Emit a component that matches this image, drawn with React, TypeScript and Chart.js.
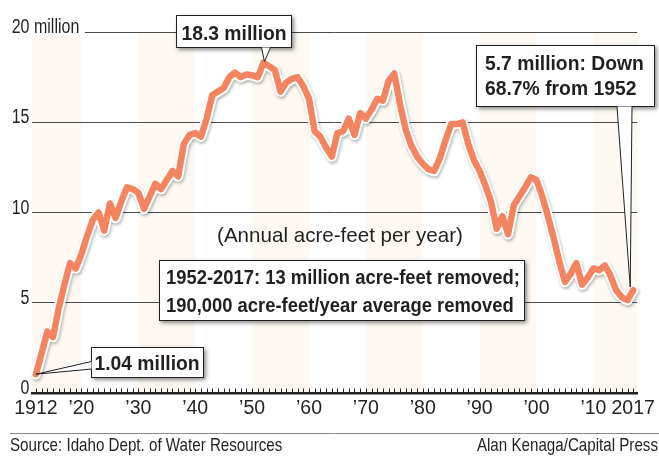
import React, { useEffect, useRef } from "react";
import { Chart, registerables } from "chart.js";

Chart.register(...registerables);

// ---------- data ----------
const START_YEAR = 1912;
const END_YEAR = 2017;
const YEARS: number[] = Array.from({ length: END_YEAR - START_YEAR + 1 }, (_, i) => START_YEAR + i);

// Annual acre-feet (millions), 1912-2017
const VALUES: number[] = [
  1.04, 2.2, 3.4, 3.1, 4.7, 6.0, 7.2, 6.9,
  7.7, 8.7, 9.6, 10.0, 9.0, 10.5, 9.7, 10.6, 11.4, 11.3,
  11.1, 10.2, 10.9, 11.6, 11.3, 11.8, 12.3, 12.0, 13.8, 14.3,
  14.4, 14.2, 15.2, 16.5, 16.7, 16.9, 17.5, 17.75, 17.5, 17.65,
  17.6, 17.5, 18.3, 18.1, 17.9, 16.7, 17.2, 17.4, 17.5, 17.0,
  16.3, 14.5, 14.2, 13.6, 13.1, 14.4, 14.5, 15.2, 14.3, 15.5,
  15.2, 15.7, 16.3, 16.2, 17.3, 17.7, 16.0, 14.6, 13.7, 13.1,
  12.7, 12.4, 12.3, 13.0, 14.0, 14.9, 14.9, 15.0, 13.8, 12.9,
  12.3, 11.5, 10.6, 9.1, 9.8, 8.8, 10.4, 10.9, 11.4, 11.95,
  11.8, 10.9, 9.8, 8.6, 7.3, 6.15, 6.6, 7.2, 6.0, 6.4,
  6.9, 6.8, 7.07, 6.5, 5.7, 5.3, 5.15, 5.7,
];

const X_TICKS = [1912, 1920, 1930, 1940, 1950, 1960, 1970, 1980, 1990, 2000, 2010, 2017];
const X_TICK_LABELS = ["1912", "\u201920", "\u201930", "\u201940", "\u201950", "\u201960", "\u201970", "\u201980", "\u201990", "\u201900", "\u201910", "2017"];
const Y_TICKS = [0, 5, 10, 15, 20];
const Y_TICK_LABELS = ["0", "5", "10", "15", "20"];
const Y_TOP_SUFFIX = " million";
const SHADED_DECADES = [1910, 1930, 1950, 1970, 1990, 2010];

const PEAK_YEAR = 1952;
const PEAK_VALUE = 18.3;
const FIRST_VALUE = 1.04;
const LAST_VALUE = 5.7;

const LABEL_PEAK = "18.3 million";
const LABEL_FIRST = "1.04 million";
const LABEL_LAST = ["5.7 million: Down", "68.7% from 1952"];
const LABEL_REMOVED = ["1952-2017: 13 million acre-feet removed;", "190,000 acre-feet/year average removed"];
const LABEL_UNITS = "(Annual acre-feet per year)";
const SOURCE = "Source: Idaho Dept. of Water Resources";
const CREDIT = "Alan Kenaga/Capital Press";

// ---------- style ----------
const TEXT_COLOR = "#231f20";
const LINE_COLOR = "#f4845f";
const BAND_COLOR = "#fdf9f2";
const GRID_COLOR = "#4a4a4a";
const FONT = "'Liberation Sans', Arial, sans-serif";
const NARROW = "'Liberation Sans Narrow', 'Arial Narrow', 'Liberation Sans', sans-serif";

function drawText(
  ctx: CanvasRenderingContext2D,
  str: string,
  x: number,
  y: number,
  size: number,
  weight: string,
  sx: number,
  align: "left" | "right" | "center"
): number {
  ctx.save();
  ctx.font = `${weight} ${size}px ${FONT}`;
  const w = ctx.measureText(str).width * sx;
  let x0 = x;
  if (align === "right") x0 = x - w;
  else if (align === "center") x0 = x - w / 2;
  ctx.translate(x0, y);
  ctx.scale(sx, 1);
  ctx.textAlign = "left";
  ctx.textBaseline = "alphabetic";
  ctx.fillStyle = TEXT_COLOR;
  ctx.fillText(str, 0, 0);
  ctx.restore();
  return w;
}

function drawBox(ctx: CanvasRenderingContext2D, x: number, y: number, w: number, h: number) {
  ctx.save();
  ctx.shadowColor = "rgba(0,0,0,0.45)";
  ctx.shadowBlur = 4;
  ctx.shadowOffsetX = 2;
  ctx.shadowOffsetY = 2;
  ctx.fillStyle = "#fff";
  ctx.fillRect(x, y, w, h);
  ctx.restore();
  ctx.save();
  ctx.strokeStyle = TEXT_COLOR;
  ctx.lineWidth = 1;
  ctx.strokeRect(x + 0.5, y + 0.5, w - 1, h - 1);
  ctx.restore();
}

function drawPointer(
  ctx: CanvasRenderingContext2D,
  a: [number, number],
  b: [number, number],
  tip: [number, number]
) {
  ctx.save();
  ctx.beginPath();
  ctx.moveTo(a[0], a[1]);
  ctx.lineTo(tip[0], tip[1]);
  ctx.lineTo(b[0], b[1]);
  ctx.closePath();
  ctx.fillStyle = "#fff";
  ctx.fill();
  ctx.beginPath();
  ctx.moveTo(a[0], a[1]);
  ctx.lineTo(tip[0], tip[1]);
  ctx.lineTo(b[0], b[1]);
  ctx.strokeStyle = TEXT_COLOR;
  ctx.lineWidth = 1;
  ctx.stroke();
  ctx.restore();
}

const decoPlugin = {
  id: "deco",
  beforeDraw(chart: any) {
    const { ctx, chartArea: a, scales } = chart;
    const x = scales.x;
    ctx.save();
    ctx.fillStyle = "#fff";
    ctx.fillRect(0, 0, chart.width, chart.height);
    ctx.fillStyle = BAND_COLOR;
    SHADED_DECADES.forEach((d) => {
      const x0 = Math.max(x.getPixelForValue(d), a.left);
      const x1 = Math.min(x.getPixelForValue(d + 10), a.right);
      if (x1 > x0) ctx.fillRect(x0, a.top, x1 - x0, a.bottom - a.top);
    });
    ctx.restore();
  },
  beforeDatasetDraw(chart: any, args: any) {
    if (args.index === 0) {
      const ctx = chart.ctx;
      ctx.save();
      ctx.shadowColor = "rgba(0,0,0,0.28)";
      ctx.shadowBlur = 3;
      ctx.shadowOffsetX = 1;
      ctx.shadowOffsetY = 2;
    }
  },
  afterDatasetDraw(chart: any, args: any) {
    if (args.index === 0) chart.ctx.restore();
  },
  afterDraw(chart: any) {
    const { ctx, chartArea: a, scales } = chart;
    const x = scales.x;
    const y = scales.y;

    // minor year ticks on the axis
    ctx.save();
    ctx.strokeStyle = TEXT_COLOR;
    ctx.lineWidth = 1;
    YEARS.forEach((yr) => {
      const px = Math.round(x.getPixelForValue(yr)) + 0.5;
      ctx.beginPath();
      ctx.moveTo(px, a.bottom - 4.5);
      ctx.lineTo(px, a.bottom);
      ctx.stroke();
    });
    ctx.restore();

    // y labels
    const ySize = 20;
    const ySx = 0.8;
    Y_TICKS.forEach((v, i) => {
      const py = y.getPixelForValue(v);
      if (i === Y_TICKS.length - 1) {
        ctx.save();
        ctx.fillStyle = "#fff";
        ctx.fillRect(a.left - 1, py - 2, 54, 5);
        ctx.restore();
        drawText(ctx, Y_TICK_LABELS[i], 29.5, py + 1, ySize, "normal", ySx, "right");
        drawText(ctx, Y_TOP_SUFFIX, 29.5, py + 1, ySize, "normal", ySx, "left");
      } else {
        drawText(ctx, Y_TICK_LABELS[i], 29.5, py + 1, ySize, "normal", ySx, "right");
      }
    });

    // units note
    drawText(ctx, LABEL_UNITS, 340, 242, 21, "normal", 0.98, "center");

    // removed box
    drawBox(ctx, 159, 260, 366, 61);
    drawText(ctx, LABEL_REMOVED[0], 166, 284, 20, "bold", 0.92, "left");
    drawText(ctx, LABEL_REMOVED[1], 166, 312, 20, "bold", 0.92, "left");

    // peak box
    const pkx = x.getPixelForValue(PEAK_YEAR);
    const pky = y.getPixelForValue(PEAK_VALUE);
    drawBox(ctx, 176, 15, 116, 33);
    drawPointer(ctx, [261.5, 47.5], [270.5, 47.5], [pkx + 1, pky - 1]);
    drawText(ctx, LABEL_PEAK, 234, 40, 21, "bold", 0.92, "center");

    // last box
    const lx = x.getPixelForValue(END_YEAR);
    const ly = y.getPixelForValue(LAST_VALUE);
    drawBox(ctx, 476, 45, 179, 62);
    drawPointer(ctx, [617, 106.5], [632, 106.5], [lx - 3, ly - 3]);
    drawText(ctx, LABEL_LAST[0], 485, 70, 21, "bold", 0.92, "left");
    drawText(ctx, LABEL_LAST[1], 485, 95, 21, "bold", 0.92, "left");

    // first box
    const fx = x.getPixelForValue(START_YEAR);
    const fy = y.getPixelForValue(FIRST_VALUE);
    drawBox(ctx, 91, 347, 113, 31);
    drawPointer(ctx, [91.5, 361.5], [91.5, 369], [fx, fy]);
    drawText(ctx, LABEL_FIRST, 147, 370, 21, "bold", 0.92, "center");

    // footer
    ctx.save();
    ctx.strokeStyle = "#8a8a8a";
    ctx.lineWidth = 1;
    ctx.beginPath();
    ctx.moveTo(10, 433.5);
    ctx.lineTo(659, 433.5);
    ctx.stroke();
    ctx.restore();
    drawText(ctx, SOURCE, 10, 451, 18.6, "normal", 0.815, "left");
    drawText(ctx, CREDIT, 658, 451, 18.6, "normal", 0.815, "right");
  },
};

export default function App() {
  const ref = useRef<HTMLCanvasElement | null>(null);

  useEffect(() => {
    if (!ref.current) return;
    const points = YEARS.map((yr, i) => ({ x: yr, y: VALUES[i] }));
    const chart = new Chart(ref.current, {
      type: "line",
      data: {
        datasets: [
          {
            data: points,
            borderColor: "#ffffff",
            borderWidth: 10.5,
            pointRadius: 0,
            tension: 0,
            borderJoinStyle: "round",
            borderCapStyle: "round",
            clip: false as any,
            order: 2,
          },
          {
            data: points,
            borderColor: LINE_COLOR,
            borderWidth: 6.5,
            pointRadius: 0,
            tension: 0,
            borderJoinStyle: "round",
            borderCapStyle: "round",
            clip: false as any,
            order: 1,
          },
        ],
      },
      options: {
        animation: false,
        responsive: false,
        devicePixelRatio: 1,
        layout: { padding: { top: 32, right: 14, left: 0, bottom: 0 } },
        plugins: { legend: { display: false }, tooltip: { enabled: false } },
        events: [],
        scales: {
          x: {
            type: "linear",
            min: 1911.31,
            max: 2017.69,
            afterBuildTicks: (s: any) => {
              s.ticks = X_TICKS.map((v) => ({ value: v }));
            },
            afterFit: (s: any) => {
              s.height = 64;
            },
            grid: { display: false, drawTicks: false },
            border: { display: true, color: TEXT_COLOR, width: 2.5 },
            ticks: {
              autoSkip: false,
              maxRotation: 0,
              padding: 4,
              color: TEXT_COLOR,
              font: { family: NARROW, size: 19.5 },
              callback: (v: any) => {
                const i = X_TICKS.indexOf(Number(v));
                return i >= 0 ? X_TICK_LABELS[i] : "";
              },
            },
          },
          y: {
            min: 0,
            max: 20,
            afterBuildTicks: (s: any) => {
              s.ticks = Y_TICKS.map((v) => ({ value: v }));
            },
            afterFit: (s: any) => {
              s.width = 32;
            },
            ticks: { display: false },
            grid: {
              drawTicks: false,
              lineWidth: 1,
              color: (c: any) => (c.tick && c.tick.value === 0 ? "rgba(0,0,0,0)" : GRID_COLOR),
            },
            border: { display: false },
          },
        },
      },
      plugins: [decoPlugin],
    } as any);
    return () => chart.destroy();
  }, []);

  return (
    <div style={{ position: "absolute", left: 0, top: 0, width: 659, height: 457 }}>
      <canvas ref={ref} width={659} height={457} style={{ display: "block", width: 659, height: 457 }} />
    </div>
  );
}
